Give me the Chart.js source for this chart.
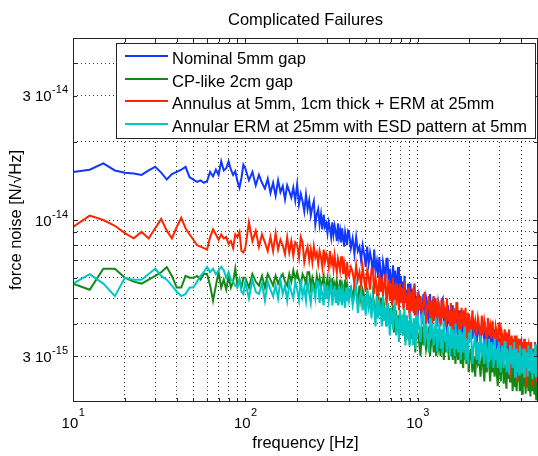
<!DOCTYPE html>
<html>
<head>
<meta charset="utf-8">
<title>Complicated Failures</title>
<script src="https://cdn.jsdelivr.net/npm/chart.js@4.4.1/dist/chart.umd.min.js"></script>
<style>
  html, body { margin: 0; padding: 0; background: #fff; }
  #wrap { width: 538px; height: 456px; }
</style>
</head>
<body>
<div id="wrap"><canvas id="noiseChart" width="538" height="456"></canvas></div>
<script>
// Frequency grid [Hz] (resampled: finer near 10 Hz, about one point per pixel above 200 Hz)
const freqLow = [10, 12.5, 15, 17.5, 20, 22.5, 25, 27.5, 30, 32.5, 35, 37.5, 40, 42.5, 45, 47.5, 50, 52.5, 55, 57.5,
  60, 62.5, 65, 67.5, 70, 72.5, 75, 77.5, 80, 82.5, 85, 87.5, 90, 92.5, 95, 97.5];
const freqMid = [100, 105, 110, 115, 120, 125, 130, 135, 140, 145, 150, 155, 160, 165, 170, 175, 180, 185, 190, 195,
  200, 205, 210, 215, 220, 225, 230, 235, 240, 245, 250, 255, 260, 265, 270, 275, 280, 285, 290, 295,
  300, 305, 310, 315, 320, 325, 330, 335, 340, 345, 350, 355, 360, 365, 370, 375, 380, 385, 390, 395,
  400, 410, 420, 430, 440, 450, 460, 470, 480, 490, 500, 510, 520, 530, 540, 550, 560, 570, 580, 590,
  600, 610, 620, 630, 640, 650, 660, 670, 680, 690, 700, 710, 720, 730, 740, 750, 760, 770, 780, 790,
  800, 810, 820, 830, 840, 850, 860, 870, 880, 890, 900, 910, 920, 930, 940, 950, 960, 970, 980, 990];
const freqHigh = [1000, 1020, 1040, 1060, 1080, 1100, 1120, 1140, 1160, 1180, 1200, 1220, 1240, 1260, 1280,
  1300, 1320, 1340, 1360, 1380, 1400, 1420, 1440, 1460, 1480, 1500, 1520, 1540, 1560, 1580,
  1600, 1620, 1640, 1660, 1680, 1700, 1720, 1740, 1760, 1780, 1800, 1820, 1840, 1860, 1880,
  1900, 1920, 1940, 1960, 1980,
  2000, 2040, 2080, 2120, 2160, 2200, 2240, 2280, 2320, 2360, 2400, 2440, 2480, 2520, 2560,
  2600, 2640, 2680, 2720, 2760, 2800, 2840, 2880, 2920, 2960, 3000, 3040, 3080, 3120, 3160,
  3200, 3240, 3280, 3320, 3360, 3400, 3440, 3480, 3520, 3560, 3600, 3640, 3680, 3720, 3760,
  3800, 3840, 3880, 3920, 3960, 4000, 4040, 4080, 4120, 4160, 4200, 4240, 4280, 4320, 4360,
  4400, 4440, 4480, 4520, 4560, 4600, 4640, 4680, 4720, 4760, 4800, 4840, 4880, 4920, 4960, 5000];
const freq = freqLow.concat(freqMid, freqHigh);

// Force noise, in units of 1e-15 N/sqrt(Hz)
const nominal = [
  15.3, 15.6, 16.5, 15.5, 15.2, 15.1, 14.9, 15.5, 16.0, 15.2, 14.3, 15.0, 15.3, 15.6, 16.0, 14.6, 14.3, 14.0,
  14.2, 13.9, 14.1, 15.3, 14.7, 15.6, 14.9, 16.8, 15.5, 15.8, 16.8, 15.6, 14.9, 15.4, 14.1, 13.3, 14.5, 16.3,
  15.8, 14.2, 15.3, 13.6, 14.9, 13.9, 13.2, 14.4, 12.7, 13.9, 12.4, 14.2, 12.8, 13.5, 12.0, 13.6, 12.9, 12.2, 13.3, 11.9,
  13.7, 11.5, 12.6, 11.8, 10.8, 12.5, 11.0, 11.9, 10.4, 11.2, 11.8, 9.6, 10.5, 11.0, 9.6, 10.5, 9.2, 10.5, 9.4, 9.7,
  8.9, 9.8, 9.3, 8.6, 9.8, 8.8, 9.5, 9.0, 8.3, 9.7, 8.6, 9.1, 8.2, 9.3, 8.5, 7.9, 9.0, 8.6, 8.0, 9.1,
  9.0, 7.8, 8.5, 7.4, 8.6, 7.6, 7.9, 7.0, 8.0, 7.4, 6.6, 7.9, 6.8, 7.5, 7.0, 6.2, 7.7, 6.4, 6.9, 6.0,
  7.2, 6.3, 5.6, 6.9, 6.5, 5.8, 7.1, 7.1, 5.5, 6.5, 6.0, 5.2, 6.7, 5.6, 6.4, 5.3, 5.9, 6.6, 4.7, 5.6,
  6.1, 4.9, 5.8, 4.6, 6.1, 5.1, 5.4, 4.6, 5.7, 5.1, 4.4, 5.7, 4.7, 5.4, 5.1, 4.4, 5.7, 4.7, 5.1, 4.4,
  4.2, 5.1, 4.7, 4.0, 5.2, 4.3, 5.0, 4.6, 4.0, 5.2, 4.3, 4.7, 4.1, 5.0, 4.4, 3.9, 4.8, 4.5, 4.0, 4.9,
  5.0, 3.9, 4.6, 4.2, 3.7, 4.7, 4.0, 4.5, 3.9, 4.3, 4.7, 3.6, 4.1, 4.5, 3.7, 4.3, 3.6, 4.5, 3.8, 4.1,
  3.6, 4.2, 3.9, 3.4, 4.3, 3.6, 4.1, 3.8, 3.4, 4.3,
  3.6, 3.9, 3.5, 4.1, 3.7, 3.3, 3.9, 3.7, 3.4, 4.0, 4.0, 3.3, 3.7, 3.5, 3.2, 3.8, 3.4, 3.7, 3.3, 3.5,
  3.8, 3.1, 3.4, 3.6, 3.2, 3.5, 3.1, 3.6, 3.2, 3.4, 3.1, 3.5, 3.3, 3.0, 3.5, 3.1, 3.4, 3.2, 3.0, 3.5,
  3.1, 3.3, 3.0, 3.4, 3.1, 2.9, 3.3, 3.2, 3.0, 3.3, 3.4, 2.9, 3.2, 3.0, 2.8, 3.2, 3.0, 3.2, 2.9, 3.1,
  3.2, 2.8, 3.0, 3.1, 2.8, 3.1, 2.8, 3.2, 2.9, 3.0, 2.8, 3.1, 2.9, 2.7, 3.1, 2.8];
const cpLike = [
  5.7, 5.4, 6.5, 6.5, 6.0, 5.8, 5.7, 5.9, 6.1, 6.3, 6.6, 6.1, 5.5, 5.5, 6.1, 6.0, 6.0, 6.1,
  5.9, 6.2, 6.2, 5.6, 4.9, 5.6, 6.3, 5.5, 5.9, 5.4, 6.1, 5.5, 5.8, 6.5, 5.6, 5.9, 5.5, 6.0,
  6.0, 5.5, 6.2, 5.8, 5.6, 6.1, 5.5, 6.2, 5.9, 5.6, 6.1, 5.7, 6.0, 6.2, 5.8, 5.6, 6.2, 5.8, 6.4, 5.9,
  6.3, 5.9, 5.6, 6.2, 6.0, 5.7, 6.3, 6.3, 5.5, 6.0, 5.7, 5.4, 6.1, 5.6, 6.0, 5.5, 5.8, 6.1, 5.2, 5.7,
  6.0, 5.3, 5.8, 5.2, 6.0, 5.5, 5.7, 5.2, 5.8, 5.5, 5.1, 5.9, 5.3, 5.7, 5.5, 5.1, 5.9, 5.3, 5.6, 5.1,
  5.3, 5.5, 5.0, 5.6, 5.3, 4.8, 5.6, 4.9, 5.4, 5.1, 4.6, 5.5, 4.7, 5.0, 4.5, 5.2, 4.7, 4.2, 5.0, 4.7,
  4.3, 5.0, 5.0, 4.1, 4.7, 4.4, 3.9, 4.8, 4.2, 4.6, 4.0, 4.4, 4.7, 3.7, 4.2, 4.5, 3.8, 4.3, 3.6, 4.5,
  3.9, 4.1, 3.6, 4.2, 3.9, 3.4, 4.3, 3.6, 4.1, 3.8, 3.3, 4.2, 3.5, 3.9, 3.4, 4.1, 3.6, 3.1, 3.9, 3.7,
  3.7, 3.4, 3.0, 3.9, 3.3, 3.7, 3.2, 3.5, 3.9, 3.0, 3.4, 3.7, 3.1, 3.6, 3.0, 3.8, 3.2, 3.4, 3.0, 3.6,
  3.3, 2.9, 3.6, 3.1, 3.5, 3.3, 2.9, 3.6, 3.0, 3.3, 2.9, 3.5, 3.1, 2.8, 3.4, 3.2, 2.9, 3.5, 3.5, 2.8,
  3.2, 3.0, 2.7, 3.4, 2.9, 3.3, 2.8, 3.1, 3.4, 2.6,
  2.9, 3.2, 2.6, 3.0, 2.5, 3.2, 2.8, 2.9, 2.5, 3.0, 2.8, 2.4, 3.1, 2.6, 3.0, 2.8, 2.4, 3.1, 2.6, 2.8,
  2.5, 3.0, 2.6, 2.3, 2.9, 2.7, 2.4, 2.9, 3.0, 2.35, 2.8, 2.5, 2.25, 2.9, 2.45, 2.8, 2.4, 2.6, 2.9, 2.2,
  2.5, 2.8, 2.3, 2.7, 2.2, 2.8, 2.4, 2.6, 2.2, 2.7, 2.4, 2.15, 2.7, 2.3, 2.6, 2.45, 2.15, 2.75, 2.3, 2.5,
  2.2, 2.65, 2.35, 2.1, 2.6, 2.4, 2.2, 2.65, 2.7, 2.15, 2.5, 2.3, 2.05, 2.6, 2.25, 2.5];
const annulus = [
  9.4, 10.4, 10.0, 9.5, 8.9, 8.5, 9.0, 8.5, 9.3, 10.1, 9.1, 8.5, 9.4, 10.2, 9.3, 8.8, 8.4, 8.0,
  7.9, 7.8, 7.7, 8.6, 9.2, 8.8, 8.4, 8.8, 8.5, 8.6, 8.1, 8.3, 7.8, 8.8, 8.6, 9.0, 7.6, 7.5,
  7.8, 9.8, 8.3, 9.1, 7.9, 8.8, 8.2, 7.6, 8.6, 7.6, 8.9, 7.7, 8.4, 8.0, 7.4, 8.6, 7.5, 8.3, 7.3, 8.2,
  8.0, 7.2, 8.6, 8.2, 6.9, 7.5, 7.9, 7.0, 7.7, 6.9, 7.9, 7.2, 7.5, 6.8, 7.6, 7.2, 6.6, 7.7, 6.9, 7.4,
  7.1, 6.6, 7.6, 6.8, 7.1, 6.5, 7.3, 6.7, 6.3, 7.1, 6.8, 6.4, 7.2, 7.2, 6.2, 6.8, 6.4, 5.9, 6.9, 6.2,
  6.1, 6.6, 6.3, 5.7, 6.7, 5.9, 6.3, 5.6, 6.6, 5.9, 5.3, 6.4, 6.0, 5.4, 6.5, 6.5, 5.2, 6.0, 5.5, 4.9,
  6.2, 5.3, 6.0, 5.1, 5.7, 6.2, 4.7, 5.4, 5.9, 4.9, 5.7, 4.7, 6.0, 5.1, 5.4, 4.7, 5.7, 5.2, 4.5, 5.7,
  4.8, 5.5, 5.1, 4.5, 5.8, 4.8, 5.2, 4.5, 5.5, 4.8, 4.2, 5.3, 5.0, 4.5, 5.4, 5.5, 4.3, 5.0, 4.6, 4.1,
  5.3, 4.5, 5.1, 4.3, 4.8, 5.3, 4.0, 4.6, 5.1, 4.2, 4.9, 4.0, 5.1, 4.4, 4.7, 4.0, 4.9, 4.4, 3.9, 5.0,
  4.2, 4.7, 4.4, 3.9, 5.0, 4.1, 4.5, 3.9, 4.8, 4.2, 3.7, 4.6, 4.3, 3.9, 4.8, 4.8, 3.8, 4.4, 4.1, 3.6,
  4.6, 3.9, 4.5, 3.8, 4.2, 4.6, 3.5, 4.1, 4.4, 3.6,
  4.3, 3.5, 4.5, 3.8, 4.1, 3.6, 4.2, 3.9, 3.4, 4.3, 3.6, 4.1, 3.8, 3.4, 4.2, 3.6, 3.9, 3.5, 4.1, 3.6,
  3.3, 3.9, 3.7, 3.4, 4.0, 4.0, 3.3, 3.7, 3.5, 3.2, 3.8, 3.4, 3.7, 3.3, 3.5, 3.8, 2.5, 3.4, 3.6, 3.2,
  3.5, 3.1, 3.6, 3.3, 3.4, 2.4, 3.5, 3.3, 3.0, 3.5, 3.1, 3.4, 3.2, 2.9, 3.5, 3.1, 3.3, 2.3, 3.4, 3.1,
  2.9, 3.3, 3.2, 3.0, 3.4, 3.4, 2.3, 3.2, 3.1, 2.8, 3.4, 3.0, 3.3, 2.4, 3.2, 3.4];
const annularErm = [
  5.7, 6.2, 5.7, 5.1, 6.0, 5.9, 5.9, 6.2, 6.5, 6.1, 5.9, 5.6, 5.3, 5.1, 5.2, 5.5, 5.5, 5.8,
  6.1, 6.3, 6.6, 6.3, 6.5, 6.2, 6.4, 6.6, 6.4, 6.0, 6.3, 5.9, 5.8, 5.6, 5.5, 5.9, 5.3, 5.2,
  5.8, 5.0, 5.9, 5.3, 5.2, 5.7, 4.9, 5.8, 5.4, 5.1, 5.6, 5.0, 5.9, 5.2, 5.6, 4.9, 5.7, 5.3, 5.0, 5.8,
  5.4, 4.9, 5.9, 5.1, 5.5, 4.9, 5.8, 5.2, 4.8, 5.6, 5.4, 5.0, 5.8, 5.8, 4.8, 5.5, 5.2, 4.7, 5.7, 5.0,
  5.6, 4.9, 5.3, 5.8, 4.7, 5.2, 5.6, 4.8, 5.4, 4.7, 5.6, 5.0, 5.3, 4.7, 5.4, 5.1, 4.6, 5.5, 4.9, 5.3,
  4.9, 5.4, 4.7, 5.1, 5.6, 4.4, 5.0, 5.3, 4.5, 5.1, 4.3, 5.4, 4.6, 4.9, 4.2, 5.0, 4.6, 3.9, 5.1, 4.2,
  4.8, 4.5, 3.9, 5.1, 4.1, 4.6, 3.9, 4.8, 4.2, 3.6, 4.6, 4.3, 3.8, 4.7, 4.8, 3.6, 4.3, 3.9, 3.4, 4.5,
  3.7, 4.3, 3.6, 4.1, 4.6, 3.3, 3.9, 4.3, 3.5, 4.1, 3.3, 4.4, 3.7, 4.0, 3.3, 4.2, 3.8, 3.2, 4.3, 3.5,
  4.2, 3.9, 3.4, 4.3, 4.4, 3.3, 4.0, 3.6, 3.1, 4.2, 3.5, 4.0, 3.3, 3.8, 4.2, 3.1, 3.6, 4.0, 3.2, 3.8,
  3.1, 4.1, 3.4, 3.7, 3.1, 3.9, 3.5, 3.0, 3.9, 3.2, 3.8, 3.5, 3.0, 4.0, 3.2, 3.6, 3.1, 3.8, 3.3, 2.9,
  3.7, 3.4, 3.1, 3.8, 3.9, 2.9, 3.5, 3.2, 2.8, 3.7,
  3.4, 3.8, 2.8, 3.3, 3.6, 2.9, 3.4, 2.8, 3.6, 3.1, 3.3, 2.8, 3.5, 3.1, 2.7, 3.5, 2.9, 3.4, 3.1, 2.7,
  3.5, 2.9, 3.2, 2.7, 3.4, 2.9, 2.6, 3.3, 3.1, 2.7, 3.4, 3.4, 2.6, 3.2, 2.9, 2.55, 3.3, 2.8, 3.2, 2.7,
  3.0, 3.4, 2.5, 2.9, 3.2, 2.6, 3.1, 2.55, 3.3, 2.8, 3.0, 2.6, 3.2, 2.9, 2.5, 3.2, 2.7, 3.1, 2.9, 2.5,
  3.3, 2.7, 3.0, 2.6, 3.2, 2.8, 2.45, 3.1, 2.9, 2.6, 3.3, 3.3, 2.5, 3.0, 2.8, 2.4];

const seriesNames = ['Nominal 5mm gap', 'CP-like 2cm gap', 'Annulus at 5mm, 1cm thick + ERM at 25mm',
  'Annular ERM at 25mm with ESD pattern at 5mm'];
const seriesColors = ['#1038ff', '#148814', '#ff2400', '#00c6c6'];
const seriesValues = [nominal, cpLike, annulus, annularErm];

// Grid lines and the few labelled ticks (base and exponent)
const xGridTicks = [10, 20, 30, 40, 50, 60, 70, 80, 90, 100, 200, 300, 400, 500, 600, 700, 800, 900,
  1000, 2000, 3000, 4000];
const xLabelTicks = [10, 100, 1000];
const xLabelBase = ['10', '10', '10'];
const xLabelExp = ['1', '2', '3'];
const yGridTicks = [3, 4, 5, 6, 7, 8, 9, 10, 20, 30, 40];
const yLabelTicks = [3, 10, 30];
const yLabelBase = ['3 10', '10', '3 10'];
const yLabelExp = ['-15', '-14', '-14'];

const chartTitle = 'Complicated Failures';
const FONT = '"Liberation Sans", Arial, Helvetica, sans-serif';

// tick label like "3 10" with a raised exponent
function drawPower(ctx, base, exp, x, y, align, raise) {
    ctx.font = '15px ' + FONT;
    const wb = ctx.measureText(base).width;
    ctx.font = '11px ' + FONT;
    const we = ctx.measureText(exp).width;
    const x0 = align === 'right' ? x - wb - we - 0.5 : x - (wb + we) / 2;
    ctx.textAlign = 'left';
    ctx.textBaseline = 'alphabetic';
    ctx.fillStyle = '#000';
    ctx.font = '15px ' + FONT;
    ctx.fillText(base, x0, y);
    ctx.font = '11px ' + FONT;
    ctx.fillText(exp, x0 + wb + 0.5, y - raise);
}

// Title, tick labels, axes box with inner tick marks, and the boxed legend
const decor = {
    id: 'decor',
    afterDatasetsDraw(chart) {
        const { ctx, chartArea: a, scales } = chart;
        ctx.save();
        ctx.setLineDash([]);
        ctx.strokeStyle = '#262626';
        ctx.lineWidth = 1;
        ctx.beginPath();
        for (const v of xGridTicks) {
            const px = Math.round(scales.x.getPixelForValue(v)) + 0.5;
            ctx.moveTo(px, a.bottom); ctx.lineTo(px, a.bottom - 4);
            ctx.moveTo(px, a.top); ctx.lineTo(px, a.top + 4);
        }
        for (const v of yGridTicks) {
            const py = Math.round(scales.y.getPixelForValue(v)) + 0.5;
            ctx.moveTo(a.left, py); ctx.lineTo(a.left + 4, py);
            ctx.moveTo(a.right, py); ctx.lineTo(a.right - 4, py);
        }
        ctx.stroke();
        ctx.strokeRect(a.left + 0.5, a.top + 0.5, a.right - a.left - 1, a.bottom - a.top - 1);

        // tick labels
        xLabelTicks.forEach((v, i) => {
            drawPower(ctx, xLabelBase[i], xLabelExp[i], scales.x.getPixelForValue(v), a.bottom + 26, 'center', 12);
        });
        yLabelTicks.forEach((v, i) => {
            drawPower(ctx, yLabelBase[i], yLabelExp[i], a.left - 5, scales.y.getPixelForValue(v) + 5.5, 'right', 8);
        });

        // legend
        ctx.font = '16.5px ' + FONT;
        const textW = Math.max(...seriesNames.map(n => ctx.measureText(n).width));
        const rowH = 22.5;
        const boxW = Math.round(9 + 43 + 4 + textW + 8);
        const boxH = Math.round(rowH * seriesNames.length + 5);
        const bx = Math.round(a.right - 3 - boxW);
        const by = a.top + 5;
        ctx.fillStyle = '#fff';
        ctx.fillRect(bx, by, boxW, boxH);
        ctx.strokeStyle = '#262626';
        ctx.lineWidth = 1;
        ctx.strokeRect(bx + 0.5, by + 0.5, boxW, boxH);
        seriesNames.forEach((name, i) => {
            const y = Math.round(by + 13 + i * rowH);
            ctx.strokeStyle = seriesColors[i];
            ctx.lineWidth = 2;
            ctx.beginPath();
            ctx.moveTo(bx + 9, y);
            ctx.lineTo(bx + 52, y);
            ctx.stroke();
            ctx.fillStyle = '#000';
            ctx.textBaseline = 'alphabetic';
            ctx.textAlign = 'left';
            ctx.fillText(name, bx + 56, y + 7.5);
        });

        // title
        ctx.textAlign = 'center';
        ctx.fillText(chartTitle, (a.left + a.right) / 2, 25);
        ctx.restore();
    }
};

const ctx = document.getElementById('noiseChart').getContext('2d');
const noiseChart = new Chart(ctx, {
    type: 'line',
    data: {
        datasets: seriesValues.map((vals, i) => ({
            label: seriesNames[i],
            data: freq.map((f, k) => ({ x: f, y: vals[k] })),
            borderColor: seriesColors[i],
            borderWidth: 2,
            pointRadius: 0,
            fill: false,
            tension: 0,
            order: seriesValues.length - i // last series drawn on top
        }))
    },
    options: {
        responsive: false,
        animation: false,
        events: [],
        layout: { padding: { top: 38, right: 0, bottom: 0, left: 0 } },
        plugins: {
            legend: { display: false },
            tooltip: { enabled: false },
            title: { display: false }
        },
        scales: {
            x: {
                type: 'logarithmic',
                min: 10,
                max: 5000,
                afterBuildTicks: (s) => { s.ticks = xGridTicks.map(v => ({ value: v })); },
                afterFit: (s) => { s.height = 54; },
                grid: { color: 'rgba(0,0,0,0.8)', lineWidth: 1, drawTicks: false },
                border: { display: false, dash: [1, 3] },
                ticks: { display: false, autoSkip: false },
                title: {
                    display: true,
                    text: 'frequency [Hz]',
                    color: '#000',
                    font: { family: FONT, size: 16.5 },
                    padding: { top: 0, bottom: 3 }
                }
            },
            y: {
                type: 'logarithmic',
                min: 2,
                max: 50,
                afterBuildTicks: (s) => { s.ticks = yGridTicks.map(v => ({ value: v })); },
                afterFit: (s) => { s.width = 73; },
                grid: { color: 'rgba(0,0,0,0.8)', lineWidth: 1, drawTicks: false },
                border: { display: false, dash: [1, 3] },
                ticks: { display: false, autoSkip: false },
                title: {
                    display: true,
                    text: 'force noise [N/√Hz]',
                    color: '#000',
                    font: { family: FONT, size: 16.5 },
                    padding: { top: 7, bottom: 0 }
                }
            }
        }
    },
    plugins: [decor]
});
</script>
</body>
</html>
